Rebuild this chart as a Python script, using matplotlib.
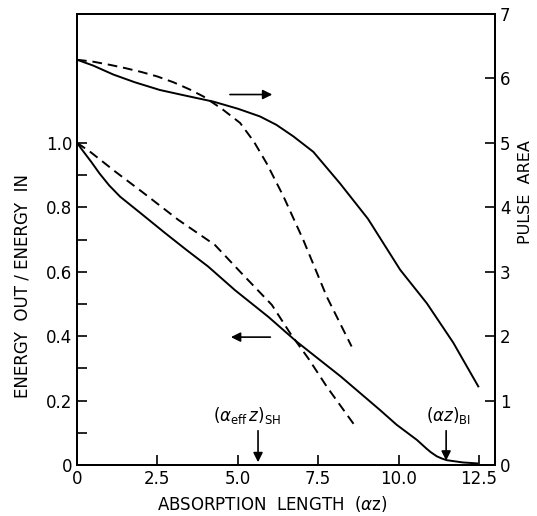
import matplotlib
matplotlib.use('Agg')
import matplotlib.pyplot as plt

# energy out / energy in (left axis)
energy_solid_x = [0, 0.2, 0.45, 0.7, 1.0, 1.34, 2.0, 2.74, 3.4, 4.08, 4.91, 5.95, 6.83, 8.2, 9.42, 9.94, 10.57, 10.88, 11.0, 11.19, 11.35, 11.5, 12.0, 12.45]
energy_solid_y = [1.0, 0.973, 0.94, 0.905, 0.868, 0.833, 0.78, 0.72, 0.668, 0.616, 0.543, 0.46, 0.383, 0.275, 0.171, 0.125, 0.078, 0.05, 0.04, 0.027, 0.02, 0.015, 0.008, 0.005]
energy_dash_x = [0, 0.4, 1.2, 2.01, 3.15, 4.29, 5.12, 6.06, 6.63, 7.2, 7.77, 8.7]
energy_dash_y = [1.0, 0.973, 0.91, 0.849, 0.761, 0.683, 0.595, 0.497, 0.409, 0.33, 0.243, 0.114]

# pulse area (right axis)
pulse_solid_x = [0, 0.5, 1.13, 1.8, 2.58, 3.4, 4.24, 5.0, 5.69, 6.2, 6.73, 7.35, 8.18, 9.05, 10.05, 10.88, 11.7, 12.48]
pulse_solid_y = [6.29, 6.2, 6.06, 5.94, 5.82, 5.73, 5.64, 5.53, 5.41, 5.28, 5.1, 4.86, 4.37, 3.82, 3.03, 2.51, 1.9, 1.22]
pulse_dash_x = [0, 0.5, 1.03, 1.5, 2.0, 2.5, 3.0, 3.5, 3.93, 4.5, 5.07, 5.5, 5.9, 6.42, 7.04, 7.77, 8.54]
pulse_dash_y = [6.29, 6.26, 6.21, 6.16, 6.1, 6.03, 5.94, 5.83, 5.72, 5.53, 5.31, 5.02, 4.68, 4.17, 3.49, 2.61, 1.84]

x_ticks = [0, 2.5, 5.0, 7.5, 10.0, 12.5]
x_tick_labels = ['0', '2.5', '5.0', '7.5', '10.0', '12.5']
left_ticks = [0, 0.2, 0.4, 0.6, 0.8, 1.0]
left_tick_labels = ['0', '0.2', '0.4', '0.6', '0.8', '1.0']
right_ticks = [0, 1, 2, 3, 4, 5, 6, 7]

plt.rcParams['font.family'] = ['DejaVu Sans']
plt.rcParams['mathtext.fontset'] = 'dejavusans'

fig = plt.figure(figsize=(5.37, 5.16), dpi=100)
ax = fig.add_axes([0.1434, 0.0988, 0.7784, 0.8741])
ax2 = ax.twinx()

lw = 1.4
ax.plot(energy_solid_x, energy_solid_y, color='black', lw=lw)
ax.plot(energy_dash_x, energy_dash_y, color='black', lw=lw, dashes=(5, 3))
ax2.plot(pulse_solid_x, pulse_solid_y, color='black', lw=lw)
ax2.plot(pulse_dash_x, pulse_dash_y, color='black', lw=lw, dashes=(5, 3))

ax.set_xlim(0, 13)
ax.set_ylim(0, 1.4)
ax2.set_ylim(0, 7)

ax.set_xticks(x_ticks)
ax.set_xticklabels(x_tick_labels)
ax.set_yticks(left_ticks)
ax.set_yticklabels(left_tick_labels)
ax.yaxis.set_minor_locator(plt.FixedLocator([0.1, 0.3, 0.5, 0.7, 0.9]))
ax2.set_yticks(right_ticks)

ax.tick_params(axis='both', which='both', direction='in', length=7, width=1.2, labelsize=12)
ax2.tick_params(axis='y', direction='in', length=7, width=1.2, labelsize=12)
for a in (ax, ax2):
    for s in a.spines.values():
        s.set_linewidth(1.4)

ax.set_xlabel('ABSORPTION  LENGTH  ($\\alpha$z)', fontsize=12)
ax.xaxis.set_label_coords(0.467, -0.064)
ax.set_ylabel('ENERGY  OUT / ENERGY  IN', fontsize=12)
ax.yaxis.set_label_coords(-0.11, 0.397)
ax2.set_ylabel('PULSE  AREA', fontsize=11.5, rotation=90)
ax2.yaxis.set_label_coords(1.056, 0.605)

arrow = dict(arrowstyle='-|>', color='black', lw=1.2, mutation_scale=14)
# direction arrows for the two curve groups
ax2.annotate('', xy=(6.16, 5.75), xytext=(4.67, 5.75), arrowprops=arrow)
ax.annotate('', xy=(4.7, 0.397), xytext=(6.1, 0.397), arrowprops=arrow)

# threshold markers
ax.annotate('', xy=(5.63, 0.0), xytext=(5.63, 0.115), arrowprops=arrow)
ax.text(5.3, 0.155, r'$(\alpha_{\rm eff}\,z)_{\rm SH}$', fontsize=12, ha='center', va='center')
ax.annotate('', xy=(11.48, 0.005), xytext=(11.48, 0.115), arrowprops=arrow)
ax.text(11.55, 0.155, r'$(\alpha z)_{\rm BI}$', fontsize=12, ha='center', va='center')

fig.savefig('out.png', dpi=100)
